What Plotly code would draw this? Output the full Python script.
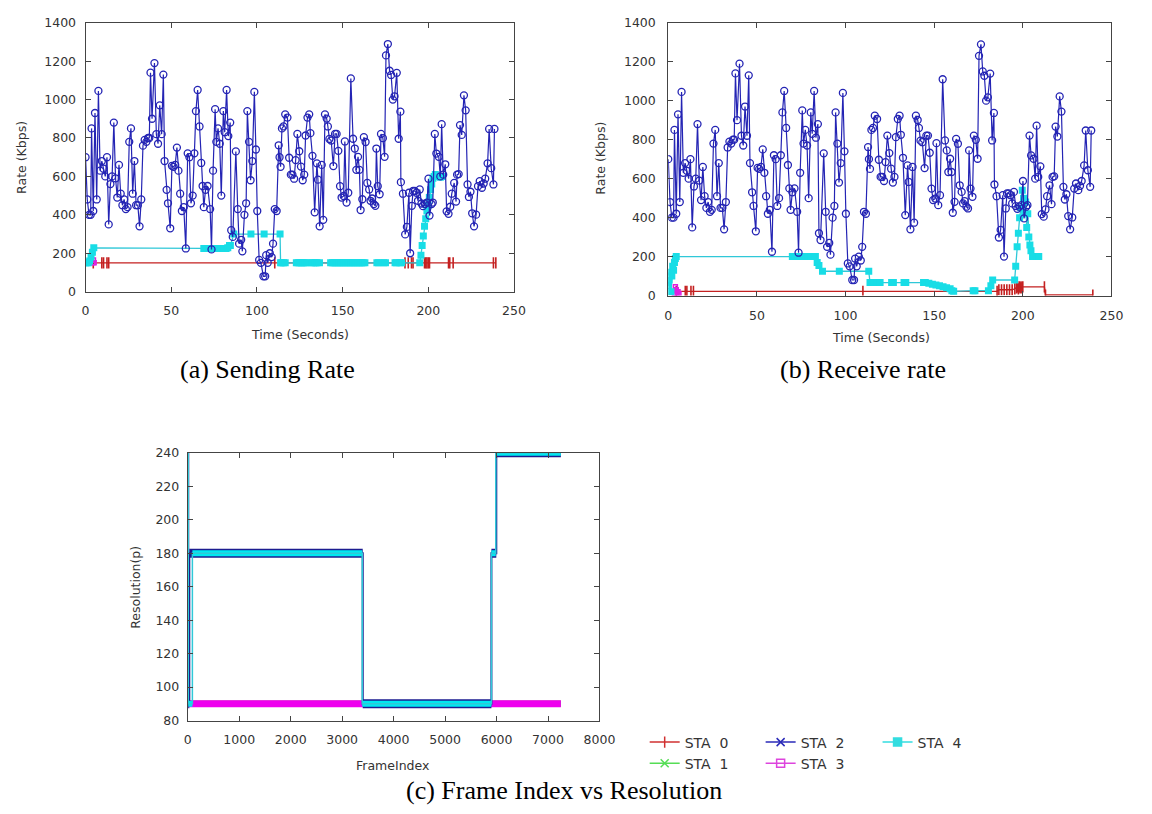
import plotly.graph_objects as go

# ---------------- Panel (a)/(b): STA 2 rate (same trace in both panels) ----------------
sta2_time = [0, 1, 2, 3, 3.5, 4.5, 5.5, 6.5, 7.5, 8.5, 9.5, 10.5, 11.5, 12.5, 13.5, 14.5, 15.5, 16.5, 17.5, 18.5,
             19.5, 20.5, 21.5, 22.5, 23.5, 24.5, 25.5, 26.5, 27.5, 28.5, 29.5, 30.5, 31.5, 32.5, 33.5, 34.5, 35.5,
             36.5, 37.2, 37.9, 38.8, 40.2, 41.3, 42.3, 43.3, 44.4, 45.4, 46.1, 47.3, 48.1, 49.4, 50.4, 51.3, 52.3,
             53.3, 54.2, 55.2, 56.2, 57.3, 58.5, 59.6, 60.6, 61.5, 62.5, 63.5, 64.4, 65.4, 66.5, 67.5, 68.3, 69,
             70, 71.2, 72.7, 73.5, 74.4, 75.6, 76.3, 77.3, 78.3, 79.2, 80.4, 81.2, 82.3, 83.3, 84.4, 85, 85.9,
             87.7, 88.8, 89.6, 90.8, 91.5, 92.7, 93.7, 94.4, 95.4, 96.3, 97.3, 98.5, 99.4, 100.2, 101.3, 102.3,
             103.8, 104.8, 105.4, 106.3, 107.5, 108.6, 109.4, 110.4, 111.5,
             112.7, 113.2, 113.8, 114.6, 115.5, 116.5, 117.8, 118.8, 119.8, 120.7, 121.7, 122.6, 123.6, 124.7,
             125.7, 126.7, 127.6, 128.4, 129.5, 130.5, 131.2, 132.4, 133.7, 135.0, 135.6, 136.6, 137.8, 138.7,
             139.7, 140.7, 141.4, 142.3, 143.3, 144.6, 145.6, 146.5, 147.5, 148.5, 149.4, 150.6, 151.3, 152.3,
             153.3, 154.8, 156.1, 157.1, 158.0, 159.0, 159.8, 160.5, 161.5, 162.4, 163.4, 164.4, 165.5, 166.3,
             167.2, 168.2, 169.1, 169.7, 170.5, 171.6, 172.4, 173.5, 174.5, 175.3, 176.4, 177.4, 178.3, 179.3,
             180.3, 181.6, 182.7, 183.7, 184.0, 185.2, 186.5, 187.5, 188.7, 189.4, 190.4, 191.1, 192.1, 193.1,
             194.0, 195.0, 196.0, 196.9, 198.0, 199.2, 200.1, 200.7, 201.9, 202.6, 203.8, 204.7, 206.1, 207.0,
             207.8, 208.7, 209.9, 210.7, 211.8, 212.8, 213.7, 215.1, 216.2, 216.8, 217.7, 218.5, 219.5, 220.8,
             221.8, 222.9, 223.7, 224.6, 225.6, 226.7, 227.9, 229.0, 230.0, 231.3, 232.3, 233.2, 234.6, 235.5,
             236.7, 238.0, 238.6]
sta2_rate = [700, 480, 400, 400, 850, 420, 930, 480, 1045, 630, 680, 640, 600, 700, 350, 560, 600, 880, 590, 490,
             660, 510, 450, 480, 430, 440, 780, 850, 510, 680, 450, 450, 340, 480, 760, 790, 780,
             800, 800, 1140, 900, 1190, 820, 770, 970, 820, 1130, 680, 530, 460, 330, 655, 650, 660,
             750, 630, 510, 420, 440, 225, 720, 700, 460, 500, 720, 940, 1050, 860, 670, 550, 440,
             530, 550, 430, 220, 630, 950, 780, 850, 770, 500, 940, 830, 1050, 810, 880, 320, 285,
             730, 430, 250, 270, 210, 400, 460, 940, 780, 580, 680, 1040, 740, 420, 165, 150,
             80, 80, 190, 150, 200, 180, 250, 430, 420,
             762, 700, 650, 850, 860, 923, 906, 697, 609, 609, 588, 685, 821, 731,
             651, 580, 609, 813, 906, 923, 825, 707, 413, 668, 583, 340, 660, 374,
             923, 901, 860, 795, 787, 654, 821, 821, 733, 549, 490, 498, 782, 464,
             515, 1110, 796, 745, 634, 702, 634, 425, 481, 804, 779, 566, 532, 473,
             485, 456, 447, 745, 549, 507, 821, 799, 702, 1230, 1289, 1150, 1128, 1000,
             1017, 1139, 796, 937, 570, 510, 298, 337, 515, 200, 447, 524, 524, 515,
             473, 532, 459, 445, 456, 464, 588, 396, 456, 464, 821, 719, 702, 600,
             872, 609, 663, 418, 405, 442, 510, 566, 469, 609, 612, 867, 816, 1022,
             944, 558, 493, 520, 408, 340, 401, 549, 575, 541, 563, 588, 668, 847,
             643, 558, 847]

# ---------------- Panel (a) other stations ----------------
a_sta0_time = [4.5, 9.5, 10.5, 12.5, 13.5, 110.4, 186.4, 188.3, 190.2, 191.1, 197.8, 198.5, 199.2, 200.0,
               200.7, 211.8, 212.5, 214.5, 238.0, 239.4]
a_sta0_rate = [150] * 20
a_sta3_time = [4.2, 4.6, 5.0]
a_sta3_rate = [150, 165, 150]
a_sta4_time = [0, 0.8, 1.6, 2.4, 3.2, 4.0, 4.8, 69, 70, 71, 72, 73, 74, 75, 76, 77, 78, 79, 80, 81, 82, 83,
               84, 84.5, 86.5, 96.5, 104.2, 113.5, 113.8, 114.5, 115.5, 116.5, 123, 124, 125, 126, 127, 128,
               129, 132, 133, 134, 135, 136.5, 143, 144, 145, 146, 147, 148, 149, 150, 151, 152, 153, 154,
               155, 156, 157, 158, 159, 160, 161, 162, 163, 170, 171, 174, 175, 180.6, 181.5, 183.5, 184.4,
               195, 195.7, 196.4, 197.1, 197.8, 198.5, 199.2, 199.9, 200.6, 201.3, 202, 202.7, 203.4,
               204.1, 205.5, 207, 208]
a_sta4_rate = [150, 150, 150, 160, 180, 205, 228, 225, 225, 225, 225, 225, 225, 225, 225, 225, 225, 225, 225,
               225, 225, 228, 240, 240, 300, 300, 300, 300, 150, 150, 150, 150, 150, 150, 150, 150, 150, 150,
               150, 150, 150, 150, 150, 150, 150, 150, 150, 150, 150, 150, 150, 150, 150, 150, 150, 150,
               150, 150, 150, 150, 150, 150, 150, 150, 150, 150, 150, 150, 150, 150, 150, 150, 150,
               150, 190, 240, 290, 340, 380, 420, 450, 490, 530, 560, 590, 600,
               610, 600, 595, 600]

# ---------------- Panel (b) other stations ----------------
b_sta0_time = [4.5, 9.6, 10.5, 12.8, 14.2, 109.8, 185.5, 186.5, 188, 189.5, 191, 192.5, 194, 195.5, 196.5,
               197, 197.5, 198, 198.5, 199, 199.5, 200, 212.2, 212.8, 239.5]
b_sta0_rate = [22, 22, 22, 22, 22, 22, 22, 30, 30, 30, 30, 30, 30, 35, 40, 45, 35, 45, 40, 45, 40, 45,
               45, 3, 3]
b_sta3_time = [3.5, 4.0, 4.5, 5.0, 5.5, 6.0]
b_sta3_rate = [10, 45, 30, 15, 20, 10]
b_sta4_time = [0, 0.5, 1, 1.5, 2, 2.5, 3, 3.5, 4, 4.5, 70, 71.5, 73, 74.5, 76, 77.5, 79, 80.5, 82, 83, 84,
               85, 87, 96.5, 113.1, 113.8, 115, 116, 118, 119.5, 126, 127, 133, 134, 144, 145, 147, 149,
               151, 153, 155, 157, 159, 160, 161, 172, 173, 180.6, 182, 183, 195.4, 196, 196.8, 197.5,
               198.2, 199, 199.7, 200.4, 201, 201.6, 202.2, 202.8, 203.4, 204, 204.6, 205.5, 206.5, 208, 209]
b_sta4_rate = [50, 80, 120, 20, 100, 150, 130, 170, 190, 200, 200, 200, 200, 200, 200, 200, 200, 200, 200,
               200, 170, 155, 125, 125, 125, 67, 67, 67, 67, 67, 67, 67, 67, 67, 67, 67, 63, 58,
               55, 50, 45, 40, 35, 25, 22, 25, 25, 25, 50, 80, 80, 150, 250, 320,
               400, 450, 540, 500, 420, 480, 350, 420, 300, 260, 230, 200, 200, 200, 200]

# ---------------- Panel (c): resolution steps (start frame, resolution) ----------------
frame_end = 7250
c_sta0_frames = [0]
c_sta0_res = [90]
c_sta1_frames = [0]
c_sta1_res = [90]
c_sta2_frames = [0, 10, 30, 3400, 5900, 5995]
c_sta2_res = [240, 90, 180, 90, 180, 240]
c_sta3_frames = [0]
c_sta3_res = [90]
c_sta4_frames = [0, 10, 90, 3390, 5900, 5985]
c_sta4_res = [240, 90, 180, 90, 180, 240]

# ---------------- Text ----------------
rate_ticks = [0, 200, 400, 600, 800, 1000, 1200, 1400]
time_ticks = [0, 50, 100, 150, 200, 250]
res_ticks = [80, 100, 120, 140, 160, 180, 200, 220, 240]
frame_ticks = [0, 1000, 2000, 3000, 4000, 5000, 6000, 7000, 8000]
sta_names = ["STA\u00a0 0", "STA\u00a0 1", "STA\u00a0 2", "STA\u00a0 3", "STA\u00a0 4"]

W, H = 1152, 814
RED = "#c42020"
GREEN = "#44dd44"
BLUE = "#2424b4"
NAVY = "#1c1c90"
MAGENTA = "#e020e0"
CYAN = "#18dde6"

fig = go.Figure()


def add_rate_panel(xa, ya, s0t, s0r, s3t, s3r, s4t, s4r):
    fig.add_trace(go.Scatter(x=s0t, y=s0r, mode="lines+markers", xaxis=xa, yaxis=ya, showlegend=False,
                             line=dict(color=RED, width=1.3),
                             marker=dict(symbol="line-ns-open", size=8, line=dict(color="#dd1010", width=1.6))))
    fig.add_trace(go.Scatter(x=s3t, y=s3r, mode="lines+markers", xaxis=xa, yaxis=ya, showlegend=False,
                             line=dict(color=MAGENTA, width=1.3),
                             marker=dict(symbol="square-open", size=4, line=dict(color=MAGENTA, width=1.5))))
    fig.add_trace(go.Scatter(x=s4t, y=s4r, mode="lines+markers", xaxis=xa, yaxis=ya, showlegend=False,
                             line=dict(color="#30c8d8", width=1.3),
                             marker=dict(symbol="square", size=7, color=CYAN, line=dict(width=0))))
    fig.add_trace(go.Scatter(x=sta2_time, y=sta2_rate, mode="lines+markers", xaxis=xa, yaxis=ya,
                             showlegend=False, line=dict(color=BLUE, width=1.2),
                             marker=dict(symbol="circle-open", size=7, line=dict(color=BLUE, width=1.3))))


add_rate_panel("x", "y", a_sta0_time, a_sta0_rate, a_sta3_time, a_sta3_rate, a_sta4_time, a_sta4_rate)
add_rate_panel("x2", "y2", b_sta0_time, b_sta0_rate, b_sta3_time, b_sta3_rate, b_sta4_time, b_sta4_rate)


def segments(frames, res):
    bx, by = [], []
    for i in range(len(frames)):
        x0 = frames[i]
        x1 = frames[i + 1] if i + 1 < len(frames) else frame_end
        bx += [x0, x1, None]
        by += [res[i], res[i], None]
    return bx, by


def thin(frames, res, color, w):
    fig.add_trace(go.Scatter(x=list(frames) + [frame_end], y=list(res) + [res[-1]], mode="lines",
                             line=dict(color=color, width=w, shape="hv"),
                             xaxis="x3", yaxis="y3", showlegend=False))


def band(frames, res, color, w):
    bx, by = segments(frames, res)
    fig.add_trace(go.Scatter(x=bx, y=by, mode="lines", line=dict(color=color, width=w),
                             xaxis="x3", yaxis="y3", showlegend=False))


thin(c_sta0_frames, c_sta0_res, RED, 1)
band(c_sta0_frames, c_sta0_res, RED, 6)
thin(c_sta1_frames, c_sta1_res, GREEN, 1)
band(c_sta1_frames, c_sta1_res, GREEN, 6)
band(c_sta3_frames, c_sta3_res, "#ee00ee", 7)
thin(c_sta2_frames, c_sta2_res, NAVY, 2)
band(c_sta2_frames, c_sta2_res, NAVY, 9)
band(c_sta4_frames, c_sta4_res, "#00e8f0", 6)
thin(c_sta4_frames, c_sta4_res, "#30c8d8", 1.5)

# legend entries
leg_style = [
    (sta_names[0], "#d03030", "line-ns-open", "legend"),
    (sta_names[1], "#55dd55", "x-thin-open", "legend"),
    (sta_names[2], "#2a2ab8", "x-thin-open", "legend2"),
    (sta_names[3], "#dd44dd", "square-open", "legend2"),
    (sta_names[4], "#33dde0", "square", "legend3"),
]
for name, col, sym, lg in leg_style:
    fig.add_trace(go.Scatter(x=[None], y=[None], mode="lines+markers", name=name, legend=lg,
                             xaxis="x3", yaxis="y3", line=dict(color=col, width=1.5),
                             marker=dict(symbol=sym, size=8, color=col, line=dict(color=col, width=1.5))))

tickfont = dict(family="DejaVu Sans", size=12.5, color="#333333")
axis_common = dict(showline=True, linecolor="#444444", linewidth=1, mirror="ticks", ticks="inside",
                   ticklen=5, tickcolor="#444444", showgrid=False, zeroline=False, tickfont=tickfont,
                   fixedrange=True)


def px_x(v):
    return v / W


def px_y(v):
    return 1 - v / H


legfont = dict(family="DejaVu Sans", size=14, color="#333333")
fig.update_layout(
    width=W, height=H, margin=dict(l=0, r=0, t=0, b=0),
    paper_bgcolor="white", plot_bgcolor="white",
    xaxis=dict(axis_common, domain=[px_x(83), px_x(519)], range=[0, 250], tickvals=time_ticks,
               anchor="y", ticklabelstandoff=7),
    yaxis=dict(axis_common, domain=[px_y(289), px_y(15)], range=[0, 1400], tickvals=rate_ticks,
               anchor="x", ticklabelstandoff=6),
    xaxis2=dict(axis_common, domain=[px_x(676), px_x(1127)], range=[0, 250], tickvals=time_ticks,
                anchor="y2", ticklabelstandoff=8),
    yaxis2=dict(axis_common, domain=[px_y(293), px_y(15)], range=[0, 1400], tickvals=rate_ticks,
                anchor="x2", ticklabelstandoff=9),
    xaxis3=dict(axis_common, domain=[px_x(187), px_x(606)], range=[0, 8000], tickvals=frame_ticks,
                anchor="y3", ticklabelstandoff=7),
    yaxis3=dict(axis_common, domain=[px_y(726), px_y(453)], range=[80, 240], tickvals=res_ticks,
                anchor="x3", ticklabelstandoff=5),
    legend=dict(x=px_x(652), y=px_y(732), xanchor="left", yanchor="top", bgcolor="rgba(0,0,0,0)",
                font=legfont, tracegroupgap=0),
    legend2=dict(x=px_x(770), y=px_y(732), xanchor="left", yanchor="top", bgcolor="rgba(0,0,0,0)",
                 font=legfont, tracegroupgap=0),
    legend3=dict(x=px_x(889), y=px_y(732), xanchor="left", yanchor="top", bgcolor="rgba(0,0,0,0)",
                 font=legfont, tracegroupgap=0),
)

lab = dict(family="DejaVu Sans", size=12.5, color="#333333")
cap = dict(family="Liberation Serif", size=26, color="black")
annots = [
    ("Rate (Kbps)", 17, 152, -90, lab),
    ("Time (Seconds)", 301, 333, 0, lab),
    ("Rate (Kbps)", 607, 153, -90, lab),
    ("Time (Seconds)", 893, 336, 0, lab),
    ("Resolution(p)", 133, 590, -90, lab),
    ("FrameIndex", 395, 772, 0, lab),
    ("(a) Sending Rate", 268, 368, 0, cap),
    ("(b) Receive rate", 874, 368, 0, cap),
    ("(c) Frame Index vs Resolution", 570, 797, 0, cap),
]
for text, x, y, ang, f in annots:
    fig.add_annotation(text=text, x=px_x(x), y=px_y(y), xref="paper", yref="paper", showarrow=False,
                       textangle=ang, font=f, xanchor="center", yanchor="middle")

fig.write_html("out.html", config={"displayModeBar": False},
               post_script="document.body.style.margin='0';")
